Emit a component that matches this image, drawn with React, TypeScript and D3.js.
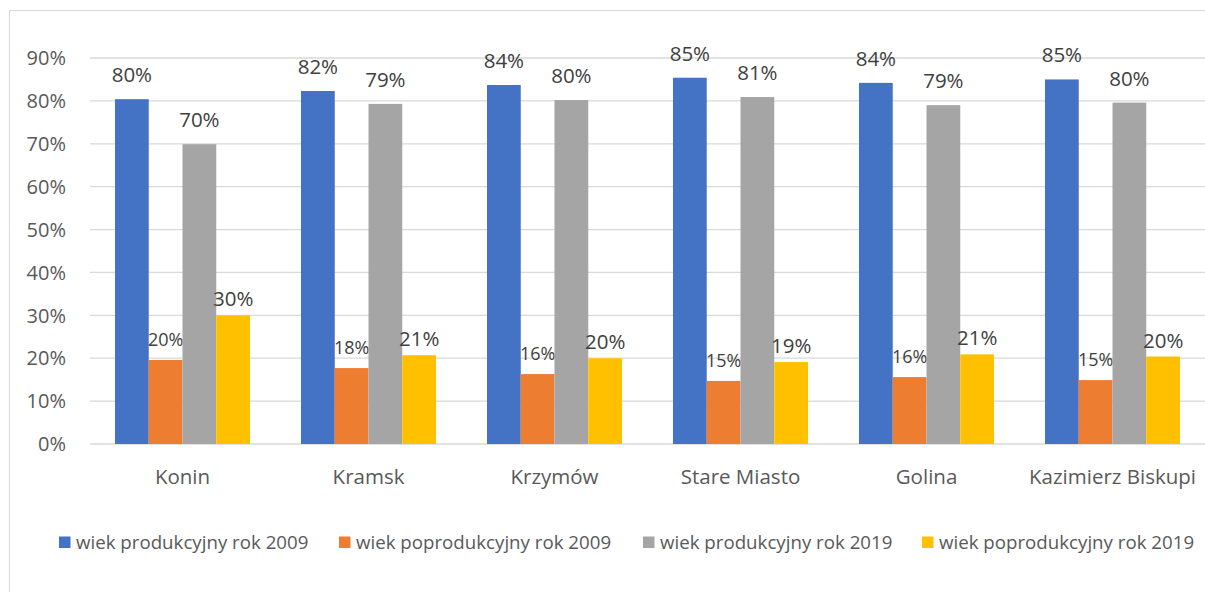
import * as d3 from "d3";
import React from "react";

const categories = ["Konin", "Kramsk", "Krzymów", "Stare Miasto", "Golina", "Kazimierz Biskupi"];
const seriesNames = [
  "wiek produkcyjny rok 2009",
  "wiek poprodukcyjny rok 2009",
  "wiek produkcyjny rok 2019",
  "wiek poprodukcyjny rok 2019",
];
const prod2009 = [0.804, 0.823, 0.837, 0.854, 0.842, 0.85];
const post2009 = [0.196, 0.177, 0.163, 0.147, 0.156, 0.149];
const prod2019 = [0.699, 0.793, 0.802, 0.809, 0.79, 0.796];
const post2019 = [0.3, 0.207, 0.2, 0.191, 0.209, 0.204];
const yTicks = [0, 0.1, 0.2, 0.3, 0.4, 0.5, 0.6, 0.7, 0.8, 0.9];

const seriesValues = [prod2009, post2009, prod2019, post2019];
const colors = ["#4472C4", "#ED7D31", "#A5A5A5", "#FFC000"];
// label gap above bar and font size per series (as in the original)
const labelGap = [17, 14, 17, 9];
const labelSize = [20.5, 18, 20.5, 20.5];
const legendX = [59, 339, 643, 922];

const W = 1205;
const H = 592;
const FONT = "'Open Sans', sans-serif";
const TEXT = "#595959";

export default function App() {
  const x0 = d3
    .scaleBand<string>()
    .domain(categories)
    .range([89.5, 1205.5])
    .paddingInner(0.274)
    .paddingOuter(0.137);
  const x1 = d3
    .scaleBand<number>()
    .domain(d3.range(seriesNames.length))
    .range([0, x0.bandwidth()]);
  const y = d3.scaleLinear().domain([0, 0.9]).range([444, 58]);
  const fmt = d3.format(".0%");

  return (
    <svg
      width={W}
      height={H}
      style={{ position: "absolute", left: 0, top: 0, background: "#fff" }}
      fontFamily={FONT}
    >
      <rect x={9.5} y={10.5} width={W + 20} height={H + 20} fill="#fff" stroke="#d9d9d9" />
      {yTicks.map((t) => (
        <g key={t}>
          <line x1={90} x2={W} y1={y(t)} y2={y(t)} stroke="#d9d9d9" strokeWidth={1.3} />
          <text x={66} y={y(t)} dy="0.36em" textAnchor="end" fontSize={20} fill={TEXT}>
            {fmt(t)}
          </text>
        </g>
      ))}
      {seriesValues.map((vals, s) => (
        <g key={s}>
          {vals.map((v, i) => {
            const bx = (x0(categories[i]) ?? 0) + (x1(s) ?? 0);
            return (
              <g key={i}>
                <rect x={bx} y={y(v)} width={x1.bandwidth()} height={y(0) - y(v)} fill={colors[s]} />
                <text
                  x={bx + x1.bandwidth() / 2}
                  y={y(v) - labelGap[s]}
                  textAnchor="middle"
                  fontSize={labelSize[s]}
                  fill="#404040"
                >
                  {fmt(v)}
                </text>
              </g>
            );
          })}
        </g>
      ))}
      {categories.map((c) => (
        <text
          key={c}
          x={(x0(c) ?? 0) + x0.bandwidth() / 2}
          y={484}
          textAnchor="middle"
          fontSize={20.5}
          fill={TEXT}
        >
          {c}
        </text>
      ))}
      {seriesNames.map((n, s) => (
        <g key={n} transform={`translate(${legendX[s]},536.5)`}>
          <rect width={11.5} height={11.5} fill={colors[s]} />
          <text x={17} y={6} dy="0.36em" fontSize={18.7} fill={TEXT}>
            {n}
          </text>
        </g>
      ))}
    </svg>
  );
}
